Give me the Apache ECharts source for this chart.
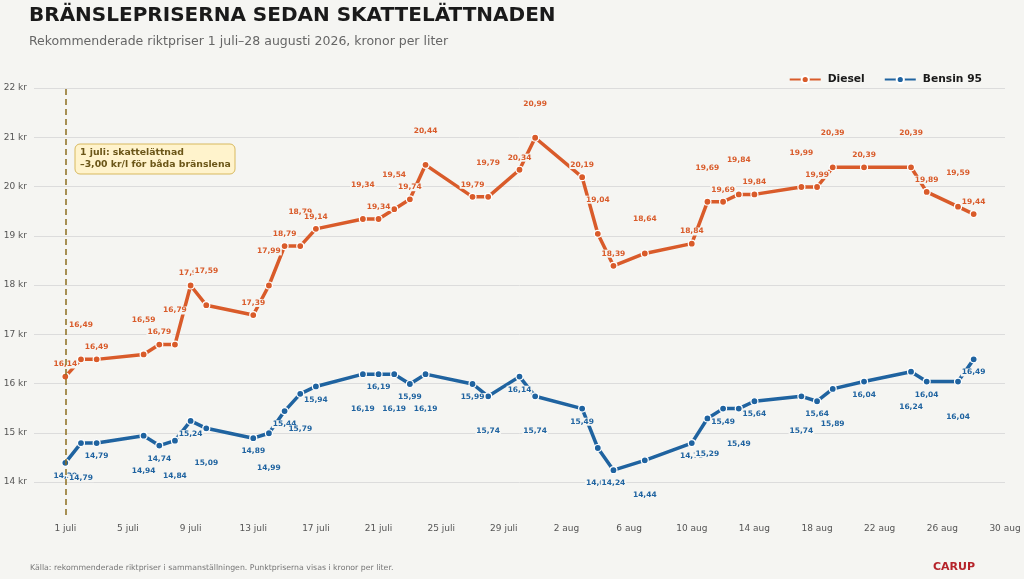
<!DOCTYPE html>
<html>
<head>
<meta charset="utf-8">
<script src="https://cdn.jsdelivr.net/npm/echarts@6/dist/echarts.min.js"></script>
<style>
  html, body { margin: 0; padding: 0; background: #f5f5f2; }
  #chart { width: 1024px; height: 579px; }
</style>
</head>
<body>
<div id="chart"></div>
<script>
// datum för varje notering
var dates = [
  '2026-07-01','2026-07-02','2026-07-03','2026-07-06','2026-07-07','2026-07-08','2026-07-09','2026-07-10',
  '2026-07-13','2026-07-14','2026-07-15','2026-07-16','2026-07-17','2026-07-20','2026-07-21','2026-07-22',
  '2026-07-23','2026-07-24','2026-07-27','2026-07-28','2026-07-30','2026-07-31','2026-08-03','2026-08-04',
  '2026-08-05','2026-08-07','2026-08-10','2026-08-11','2026-08-12','2026-08-13','2026-08-14','2026-08-17',
  '2026-08-18','2026-08-19','2026-08-21','2026-08-24','2026-08-25','2026-08-27','2026-08-28'
];
var diesel = [
  16.14, 16.49, 16.49, 16.59, 16.79, 16.79, 17.99, 17.59,
  17.39, 17.99, 18.79, 18.79, 19.14, 19.34, 19.34, 19.54,
  19.74, 20.44, 19.79, 19.79, 20.34, 20.99, 20.19, 19.04,
  18.39, 18.64, 18.84, 19.69, 19.69, 19.84, 19.84, 19.99,
  19.99, 20.39, 20.39, 20.39, 19.89, 19.59, 19.44
];
var bensin = [
  14.39, 14.79, 14.79, 14.94, 14.74, 14.84, 15.24, 15.09,
  14.89, 14.99, 15.44, 15.79, 15.94, 16.19, 16.19, 16.19,
  15.99, 16.19, 15.99, 15.74, 16.14, 15.74, 15.49, 14.69,
  14.24, 14.44, 14.79, 15.29, 15.49, 15.49, 15.64, 15.74,
  15.64, 15.89, 16.04, 16.24, 16.04, 16.04, 16.49
];
var tickDates = [
  '2026-07-01','2026-07-05','2026-07-09','2026-07-13','2026-07-17','2026-07-21','2026-07-25','2026-07-29',
  '2026-08-02','2026-08-06','2026-08-10','2026-08-14','2026-08-18','2026-08-22','2026-08-26','2026-08-30'
];
var tickLabels = [
  '1 juli','5 juli','9 juli','13 juli','17 juli','21 juli','25 juli','29 juli',
  '2 aug','6 aug','10 aug','14 aug','18 aug','22 aug','26 aug','30 aug'
];
var yTicks = [14, 15, 16, 17, 18, 19, 20, 21, 22];

// dagar räknat från 1 juli
function day(s) {
  var p = s.split('-');
  var t = Date.UTC(+p[0], +p[1] - 1, +p[2]);
  return Math.round((t - Date.UTC(2026, 6, 1)) / 86400000);
}
var tickDays = tickDates.map(day);

var FONT = 'DejaVu Sans';
var BG = '#f5f5f2';
var C_DIESEL = '#d95b2a';
var C_BENSIN = '#1f63a0';

function fmt(v) {
  return v.toFixed(2).replace('.', ',');
}

// etiketterna växlar nära/långt från punkten
function points(vals, up) {
  return vals.map(function(v, i) {
    return {
      value: [day(dates[i]), v],
      label: { offset: [0, i % 2 ? (up ? -22 : 22) : 0] }
    };
  });
}

var myChart = echarts.init(document.getElementById('chart'));

var option = {
  animation: false,
  backgroundColor: BG,
  textStyle: { fontFamily: FONT },
  title: {
    text: 'BRÄNSLEPRISERNA SEDAN SKATTELÄTTNADEN',
    subtext: 'Rekommenderade riktpriser 1 juli–28 augusti 2026, kronor per liter',
    left: 24,
    top: 1,
    itemGap: 9,
    textStyle: { fontFamily: FONT, fontSize: 20, fontWeight: 'bold', color: '#1a1a1a' },
    subtextStyle: { fontFamily: FONT, fontSize: 12.5, color: '#666' }
  },
  legend: {
    data: ['Diesel', 'Bensin 95'],
    right: 37,
    top: 69,
    itemWidth: 31,
    itemHeight: 9,
    itemGap: 19,
    textStyle: { fontFamily: FONT, fontSize: 10.7, fontWeight: 'bold', color: '#1a1a1a', padding: [0, 0, 0, 2] }
  },
  grid: { left: 34, right: 19, top: 88, bottom: 64, containLabel: false },
  xAxis: {
    type: 'value',
    min: -2,
    max: 60,
    axisLine: { show: false },
    axisTick: { show: false, customValues: tickDays },
    splitLine: { show: false },
    axisLabel: {
      customValues: tickDays,
      margin: 9,
      fontSize: 9,
      color: '#555',
      fontFamily: FONT,
      formatter: function(v) {
        var i = tickDays.indexOf(Math.round(v));
        return i >= 0 ? tickLabels[i] : '';
      }
    }
  },
  yAxis: {
    type: 'value',
    min: 13.33,
    max: 22,
    axisLine: { show: false },
    axisTick: { show: false, customValues: yTicks },
    splitLine: { show: true, lineStyle: { color: '#dcdcdc', width: 1 } },
    axisLabel: {
      customValues: yTicks,
      margin: 7,
      fontSize: 9,
      color: '#555',
      fontFamily: FONT,
      formatter: '{value} kr'
    }
  },
  series: [
    {
      name: 'Diesel',
      type: 'line',
      data: points(diesel, true),
      color: C_DIESEL,
      symbol: 'circle',
      symbolSize: 7,
      lineStyle: { width: 3.5, color: C_DIESEL },
      itemStyle: { color: C_DIESEL, borderColor: '#fff', borderWidth: 1.2 },
      label: {
        show: true,
        position: 'top',
        distance: 4,
        fontSize: 7.5,
        fontWeight: 'bold',
        color: C_DIESEL,
        fontFamily: FONT,
        backgroundColor: BG,
        padding: [0, 1],
        formatter: function(p) { return fmt(p.value[1]); }
      },
      markLine: {
        silent: true,
        symbol: 'none',
        label: { show: false },
        lineStyle: { type: [6, 4], color: '#8c6d1f', width: 1.5 },
        data: [{ xAxis: 0 }]
      },
      z: 3
    },
    {
      name: 'Bensin 95',
      type: 'line',
      data: points(bensin, false),
      color: C_BENSIN,
      symbol: 'circle',
      symbolSize: 7,
      lineStyle: { width: 3.5, color: C_BENSIN },
      itemStyle: { color: C_BENSIN, borderColor: '#fff', borderWidth: 1.2 },
      label: {
        show: true,
        position: 'bottom',
        distance: 5,
        fontSize: 7.5,
        fontWeight: 'bold',
        color: C_BENSIN,
        fontFamily: FONT,
        backgroundColor: BG,
        padding: [0, 1],
        formatter: function(p) { return fmt(p.value[1]); }
      },
      z: 3
    }
  ],
  graphic: [
    {
      type: 'rect',
      shape: { x: 75, y: 144, width: 160, height: 30, r: 5 },
      style: { fill: '#fff3cc', stroke: '#d8b95e', lineWidth: 1 },
      z: 10
    },
    {
      type: 'text',
      x: 80,
      y: 147,
      style: {
        text: '1 juli: skattelättnad\n–3,00 kr/l för båda bränslena',
        font: 'bold 9.3px "DejaVu Sans"',
        fill: '#6b5618',
        lineHeight: 12
      },
      z: 11
    },
    {
      type: 'text',
      x: 30,
      y: 564,
      style: {
        text: 'Källa: rekommenderade riktpriser i sammanställningen. Punktpriserna visas i kronor per liter.',
        font: '7.8px "DejaVu Sans"',
        fill: '#777'
      }
    },
    {
      type: 'text',
      x: 933,
      y: 562,
      style: {
        text: 'CARUP',
        font: 'bold 11px "DejaVu Sans"',
        fill: '#b5232a'
      }
    }
  ]
};

myChart.setOption(option);
</script>
</body>
</html>
